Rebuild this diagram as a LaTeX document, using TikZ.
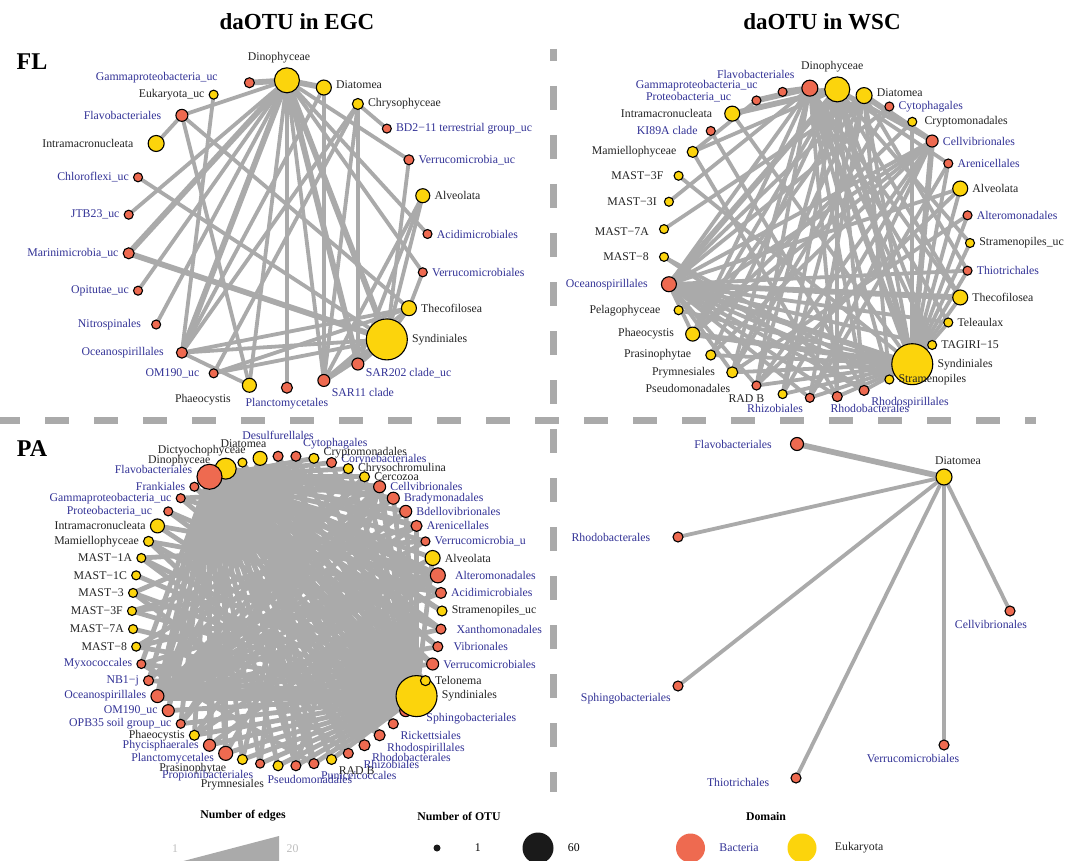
\documentclass[tikz,border=0pt]{standalone}
\usepackage{fontspec}
\setmainfont{Liberation Serif}
\usepackage{xcolor}
\usepackage{tikz}
\usetikzlibrary{positioning,backgrounds}
\definecolor{bacred}{RGB}{238,106,80}
\definecolor{eukgold}{RGB}{252,212,12}
\definecolor{labblue}{RGB}{50,50,150}
\definecolor{labdark}{RGB}{35,35,35}
\definecolor{linkgray}{RGB}{170,170,170}
\definecolor{keygray}{RGB}{190,190,190}
\definecolor{otublack}{RGB}{26,26,26}

\begin{document}
\begin{tikzpicture}[
    x=1pt, y=-1pt,
    font=\fontsize{11.8}{13}\selectfont,
    label distance=3pt,
    every label/.style={inner sep=1pt},
    otu/.style={circle, draw=black, line width=1.1pt, inner sep=0pt, minimum size=#1},
    bac/.style={otu=#1, fill=bacred},
    euk/.style={otu=#1, fill=eukgold},
    bl/.style={text=labblue},
    el/.style={text=labdark},
    link/.style={draw=linkgray, line width=3.8pt},
    thicklink/.style={link, line width=5.8pt},
    heavylink/.style={link, line width=10pt},
    palink/.style={link, line width=4.8pt},
    divider/.style={draw=linkgray, line width=7pt, dash pattern=on 24pt off 25pt},
    paneltitle/.style={font=\fontsize{23}{26}\selectfont\bfseries},
    panellabel/.style={font=\fontsize{24}{28}\selectfont\bfseries},
    keytitle/.style={font=\fontsize{11.8}{13}\selectfont\bfseries},
    keytext/.style={inner sep=1pt}
]
\useasboundingbox (0,0) rectangle (1068,861);

% titles
\node[paneltitle] (egc) at (297,22) {daOTU in EGC};
\node[paneltitle] (wsc) at (822,22) {daOTU in WSC};
\node[panellabel] (fl) at (32,62) {FL};
\node[panellabel] (pa) at (32,449) {PA};

% dividers
\draw[divider] (-4,420) -- (1036,420);
\draw[divider, dash phase=12pt] (553,49) -- (553,792);

% FL / EGC
\begin{scope}[shift={(277.5,234)}]
\node[bac=9pt, label={[bl]right:Acidimicrobiales}] (fl-aci) at (0:150 and 154) {};
\node[euk=14pt, label={[el]right:Alveolata}] (fl-alv) at (-14.4:150 and 154) {};
\node[bac=10pt, label={[bl]right:Verrucomicrobia\_uc}] (fl-ver) at (-28.8:150 and 154) {};
\node[bac=9pt, label={[bl]right:BD2−11 terrestrial group\_uc}] (fl-bd2) at (-43.2:150 and 154) {};
\node[euk=11pt, label={[el]right:Chrysophyceae}] (fl-chr) at (-57.6:150 and 154) {};
\node[euk=15pt, label={[el,yshift=3pt]right:Diatomea}] (fl-dia) at (-72:150 and 154) {};
\node[euk=25pt, label={[el,xshift=-8pt]above:Dinophyceae}] (fl-din) at (-86.4:150 and 154) {};
\node[bac=10pt, label={[bl,xshift=-22pt,yshift=5pt]left:Gammaproteobacteria\_uc}] (fl-gam) at (-100.8:150 and 154) {};
\node[euk=9pt, label={[el]left:Eukaryota\_uc}] (fl-euk) at (-115.2:150 and 154) {};
\node[bac=12pt, label={[bl,xshift=-10pt]left:Flavobacteriales}] (fl-fla) at (-129.6:150 and 154) {};
\node[euk=16pt, label={[el,xshift=-10pt]left:Intramacronucleata}] (fl-int) at (-144:150 and 154) {};
\node[bac=9pt, label={[bl]left:Chloroflexi\_uc}] (fl-chl) at (-158.4:150 and 154) {};
\node[bac=9pt, label={[bl]left:JTB23\_uc}] (fl-jtb) at (-172.8:150 and 154) {};
\node[bac=11pt, label={[bl]left:Marinimicrobia\_uc}] (fl-mar) at (172.8:150 and 154) {};
\node[bac=9pt, label={[bl]left:Opitutae\_uc}] (fl-opi) at (158.4:150 and 154) {};
\node[bac=9pt, label={[bl,xshift=-6pt]left:Nitrospinales}] (fl-nit) at (144:150 and 154) {};
\node[bac=11pt, label={[bl,xshift=-8pt]left:Oceanospirillales}] (fl-oce) at (129.6:150 and 154) {};
\node[bac=9pt, label={[bl,xshift=-5pt]left:OM190\_uc}] (fl-om1) at (115.2:150 and 154) {};
\node[euk=14pt, label={[el,xshift=-10pt]below left:Phaeocystis}] (fl-pha) at (100.8:150 and 154) {};
\node[bac=11pt, label={[bl]below:Planctomycetales}] (fl-pla) at (86.4:150 and 154) {};
\node[bac=12pt, label={[bl]below right:SAR11 clade}] (fl-s11) at (72:150 and 154) {};
\node[bac=12pt, label={[bl,yshift=4pt]below right:SAR202 clade\_uc}] (fl-s20) at (57.6:150 and 154) {};
\node[euk=41pt, label={[el]right:Syndiniales}] (fl-syn) at (43.2:150 and 154) {};
\node[euk=15pt, label={[el]right:Thecofilosea}] (fl-the) at (28.8:150 and 154) {};
\node[bac=9pt, label={[bl]right:Verrucomicrobiales}] (fl-vcb) at (14.4:150 and 154) {};
\end{scope}

% FL / WSC
\begin{scope}[shift={(816.7,243)}]
\node[euk=9pt, label={[el]right:Stramenopiles\_uc}] (ws-stu) at (0:153.3 and 155) {};
\node[bac=9pt, label={[bl]right:Alteromonadales}] (ws-alt) at (-10.29:153.3 and 155) {};
\node[euk=15pt, label={[el]right:Alveolata}] (ws-alv) at (-20.57:153.3 and 155) {};
\node[bac=9pt, label={[bl]right:Arenicellales}] (ws-are) at (-30.86:153.3 and 155) {};
\node[bac=12pt, label={[bl]right:Cellvibrionales}] (ws-cel) at (-41.14:153.3 and 155) {};
\node[euk=9pt, label={[el,xshift=3pt]right:Cryptomonadales}] (ws-cry) at (-51.43:153.3 and 155) {};
\node[bac=9pt, label={[bl]right:Cytophagales}] (ws-cyt) at (-61.71:153.3 and 155) {};
\node[euk=16pt, label={[el,yshift=3pt]right:Diatomea}] (ws-dia) at (-72:153.3 and 155) {};
\node[euk=25pt, label={[el,xshift=-5pt]above:Dinophyceae}] (ws-din) at (-82.29:153.3 and 155) {};
\node[bac=16pt, label={[bl,xshift=-6pt]above left:Flavobacteriales}] (ws-fla) at (-92.57:153.3 and 155) {};
\node[bac=9pt, label={[bl,xshift=-18pt,yshift=-6pt]above left:Gammaproteobacteria\_uc}] (ws-gam) at (-102.86:153.3 and 155) {};
\node[bac=9pt, label={[bl,xshift=-16pt,yshift=3pt]left:Proteobacteria\_uc}] (ws-pro) at (-113.14:153.3 and 155) {};
\node[euk=15pt, label={[el,xshift=-8pt]left:Intramacronucleata}] (ws-int) at (-123.43:153.3 and 155) {};
\node[bac=9pt, label={[bl,xshift=-4pt]left:KI89A clade}] (ws-ki8) at (-133.71:153.3 and 155) {};
\node[euk=11pt, label={[el,xshift=-6pt]left:Mamiellophyceae}] (ws-mam) at (-144:153.3 and 155) {};
\node[euk=9pt, label={[el,xshift=-6pt]left:MAST−3F}] (ws-m3f) at (-154.29:153.3 and 155) {};
\node[euk=9pt, label={[el,xshift=-3pt]left:MAST−3I}] (ws-m3i) at (-164.57:153.3 and 155) {};
\node[euk=9pt, label={[el,xshift=-6pt,yshift=-3pt]left:MAST−7A}] (ws-m7a) at (-174.86:153.3 and 155) {};
\node[euk=9pt, label={[el,xshift=-6pt]left:MAST−8}] (ws-m8) at (174.86:153.3 and 155) {};
\node[bac=15pt, label={[bl,xshift=-9pt]left:Oceanospirillales}] (ws-oce) at (164.57:153.3 and 155) {};
\node[euk=9pt, label={[el,xshift=-9pt]left:Pelagophyceae}] (ws-pel) at (154.29:153.3 and 155) {};
\node[euk=14pt, label={[el,xshift=-7pt]left:Phaeocystis}] (ws-pha) at (144:153.3 and 155) {};
\node[euk=10pt, label={[el,xshift=-10pt]left:Prasinophytae}] (ws-pra) at (133.71:153.3 and 155) {};
\node[euk=11pt, label={[el,xshift=-7pt]left:Prymnesiales}] (ws-pry) at (123.43:153.3 and 155) {};
\node[bac=9pt, label={[el,xshift=-17pt,yshift=-3pt]left:Pseudomonadales}] (ws-pse) at (113.14:153.3 and 155) {};
\node[euk=9pt, label={[el,xshift=-9pt,yshift=-5pt]left:RAD B}] (ws-rad) at (102.86:153.3 and 155) {};
\node[bac=9pt, label={[bl]below left:Rhizobiales}] (ws-rhi) at (92.57:153.3 and 155) {};
\node[bac=10pt, label={[bl,xshift=-14pt]below right:Rhodobacterales}] (ws-rhb) at (82.29:153.3 and 155) {};
\node[bac=10pt, label={[bl]below right:Rhodospirillales}] (ws-rhs) at (72:153.3 and 155) {};
\node[euk=41pt, label={[el]right:Syndiniales}] (ws-syn) at (51.43:153.3 and 155) {};
\node[euk=9pt, label={[el]right:Stramenopiles}] (ws-str) at (61.71:153.3 and 155) {};
\node[euk=9pt, label={[el]right:TAGIRI−15}] (ws-tag) at (41.14:153.3 and 155) {};
\node[euk=9pt, label={[el]right:Teleaulax}] (ws-tel) at (30.86:153.3 and 155) {};
\node[euk=15pt, label={[el]right:Thecofilosea}] (ws-the) at (20.57:153.3 and 155) {};
\node[bac=9pt, label={[bl]right:Thiotrichales}] (ws-thi) at (10.29:153.3 and 155) {};
\end{scope}

% PA / EGC
\begin{scope}[shift={(287,611)}]
\node[euk=14pt, label={[el,xshift=15pt,yshift=2pt]above left:Diatomea}] (pa-dia) at (260:155) {};
\node[euk=9pt, label={[el,xshift=10pt]above left:Dictyochophyceae}] (pa-dic) at (253.3:155) {};
\node[euk=21pt, label={[el,yshift=8pt]left:Dinophyceae}] (pa-din) at (246.7:155) {};
\node[bac=25pt, label={[bl,yshift=7pt]left:Flavobacteriales}] (pa-fla) at (240:155) {};
\node[bac=9pt, label={[bl]left:Frankiales}] (pa-fra) at (233.3:155) {};
\node[bac=9pt, label={[bl]left:Gammaproteobacteria\_uc}] (pa-gam) at (226.7:155) {};
\node[bac=9pt, label={[bl,xshift=-7pt]left:Proteobacteria\_uc}] (pa-prb) at (220:155) {};
\node[euk=14pt, label={[el]left:Intramacronucleata}] (pa-int) at (213.3:155) {};
\node[euk=10pt, label={[el]left:Mamiellophyceae}] (pa-mam) at (206.7:155) {};
\node[euk=9pt, label={[el]left:MAST−1A}] (pa-m1a) at (200:155) {};
\node[euk=9pt, label={[el]left:MAST−1C}] (pa-m1c) at (193.3:155) {};
\node[euk=9pt, label={[el]left:MAST−3}] (pa-m3) at (186.7:155) {};
\node[euk=9pt, label={[el]left:MAST−3F}] (pa-m3f) at (180:155) {};
\node[euk=9pt, label={[el]left:MAST−7A}] (pa-m7a) at (173.3:155) {};
\node[euk=9pt, label={[el]left:MAST−8}] (pa-m8) at (166.7:155) {};
\node[bac=9pt, label={[bl]left:Myxococcales}] (pa-myx) at (160:155) {};
\node[bac=10pt, label={[bl]left:NB1−j}] (pa-nb1) at (153.3:155) {};
\node[bac=13pt, label={[bl]left:Oceanospirillales}] (pa-oce) at (146.7:155) {};
\node[bac=12pt, label={[bl]left:OM190\_uc}] (pa-om1) at (140:155) {};
\node[bac=9pt, label={[bl]left:OPB35 soil group\_uc}] (pa-opb) at (133.3:155) {};
\node[euk=10pt, label={[el]left:Phaeocystis}] (pa-pha) at (126.7:155) {};
\node[bac=12pt, label={[bl]left:Phycisphaerales}] (pa-phy) at (120:155) {};
\node[bac=14pt, label={[bl,yshift=-5pt]left:Planctomycetales}] (pa-pla) at (113.3:155) {};
\node[euk=10pt, label={[el,xshift=-9pt,yshift=3pt]below left:Prasinophytae}] (pa-pra) at (106.7:155) {};
\node[bac=9pt, label={[bl]below left:Propionibacteriales}] (pa-ppb) at (100:155) {};
\node[euk=10pt, label={[el,xshift=-7pt,yshift=-6pt]below left:Prymnesiales}] (pa-pry) at (93.3:155) {};
\node[bac=10pt, label={[bl,xshift=14pt]below:Pseudomonadales}] (pa-pse) at (86.7:155) {};
\node[bac=10pt, label={[bl]below right:Puniceicoccales}] (pa-pun) at (80:155) {};
\node[euk=10pt, label={[el]below right:RAD B}] (pa-rad) at (73.3:155) {};
\node[bac=10pt, label={[bl,xshift=8pt]below right:Rhizobiales}] (pa-rhi) at (66.7:155) {};
\node[bac=11pt, label={[bl]below right:Rhodobacterales}] (pa-rhb) at (60:155) {};
\node[bac=11pt, label={[bl]below right:Rhodospirillales}] (pa-rhs) at (53.3:155) {};
\node[bac=10pt, label={[bl]below right:Rickettsiales}] (pa-ric) at (46.7:155) {};
\node[bac=12pt, label={[bl,xshift=10pt,yshift=-8pt]right:Sphingobacteriales}] (pa-sph) at (40:155) {};
\node[euk=41pt, label={[el]right:Syndiniales}] (pa-syn) at (33.3:155) {};
\node[euk=10pt, label={[el]right:Telonema}] (pa-tel) at (26.7:155) {};
\node[bac=12pt, label={[bl]right:Verrucomicrobiales}] (pa-vcb) at (20:155) {};
\node[bac=10pt, label={[bl,xshift=6pt]right:Vibrionales}] (pa-vib) at (13.3:155) {};
\node[bac=10pt, label={[bl,xshift=6pt]right:Xanthomonadales}] (pa-xan) at (6.7:155) {};
\node[euk=10pt, label={[el]right:Stramenopiles\_uc}] (pa-stu) at (0:155) {};
\node[bac=11pt, label={[bl]right:Acidimicrobiales}] (pa-aci) at (-6.7:155) {};
\node[bac=15pt, label={[bl,xshift=5pt]right:Alteromonadales}] (pa-alt) at (-13.3:155) {};
\node[euk=15pt, label={[el]right:Alveolata}] (pa-alv) at (-20:155) {};
\node[bac=9pt, label={[bl]right:Verrucomicrobia\_u}] (pa-veu) at (-26.7:155) {};
\node[bac=11pt, label={[bl]right:Arenicellales}] (pa-are) at (-33.3:155) {};
\node[bac=12pt, label={[bl]right:Bdellovibrionales}] (pa-bde) at (-40:155) {};
\node[bac=12pt, label={[bl]right:Bradymonadales}] (pa-bra) at (-46.7:155) {};
\node[bac=12pt, label={[bl]right:Cellvibrionales}] (pa-cel) at (-53.3:155) {};
\node[euk=10pt, label={[el]right:Cercozoa}] (pa-cer) at (-60:155) {};
\node[euk=10pt, label={[el]right:Chrysochromulina}] (pa-chy) at (-66.7:155) {};
\node[bac=10pt, label={[bl,yshift=3pt]right:Corynebacteriales}] (pa-cor) at (-73.3:155) {};
\node[euk=10pt, label={[el,yshift=6pt]right:Cryptomonadales}] (pa-cry) at (-80:155) {};
\node[bac=10pt, label={[bl]above right:Cytophagales}] (pa-cyt) at (-86.7:155) {};
\node[bac=10pt, label={[bl,yshift=7pt]above:Desulfurellales}] (pa-des) at (-93.3:155) {};
\end{scope}

% PA / WSC
\node[bac=13pt, label={[bl,xshift=-14pt]left:Flavobacteriales}] (pw-fla) at (797,444) {};
\node[euk=16pt, label={[el,xshift=14pt]above:Diatomea}] (pw-dia) at (944,477) {};
\node[bac=10pt, label={[bl,xshift=-18pt]left:Rhodobacterales}] (pw-rhb) at (678,537) {};
\node[bac=10pt, label={[bl,xshift=-19pt]below:Cellvibrionales}] (pw-cel) at (1010,611) {};
\node[bac=10pt, label={[bl]below left:Sphingobacteriales}] (pw-sph) at (678,686) {};
\node[bac=10pt, label={[bl,xshift=-31pt]below:Verrucomicrobiales}] (pw-ver) at (944,745) {};
\node[bac=10pt, label={[bl,xshift=-17pt,yshift=-4pt]left:Thiotrichales}] (pw-thi) at (796,778) {};

% legend
\node[keytitle] (key-edges) at (243,816) {Number of edges};
\node[keytitle] (key-otu) at (459,816) {Number of OTU};
\node[keytitle] (key-dom) at (766,816) {Domain};
\fill[linkgray] (183.5,861) -- (279,836) -- (279,861) -- cycle;
\node[keytext, text=keygray] (key-w1) at (175,849) {1};
\node[keytext, text=keygray] (key-w20) at (292.5,849) {20};
\node[circle, fill=otublack, inner sep=0pt, minimum size=7pt] (key-one) at (437,848) {};
\node[keytext, right=33pt of key-one] (key-one-t) {1};
\node[circle, fill=otublack, inner sep=0pt, minimum size=31pt] (key-sixty) at (538,848) {};
\node[keytext, right=13pt of key-sixty] (key-sixty-t) {60};
\node[circle, fill=bacred, inner sep=0pt, minimum size=29pt] (key-bac) at (690.5,848) {};
\node[keytext, text=labblue, right=13pt of key-bac] (key-bac-t) {Bacteria};
\node[circle, fill=eukgold, inner sep=0pt, minimum size=29pt] (key-euk) at (802,848) {};
\node[keytext, text=labdark, right=17pt of key-euk] (key-euk-t) {Eukaryota};

\begin{scope}[on background layer]
\fill[white] (0,0) rectangle (1068,861);
% FL / EGC links
\foreach \na/\nb in {din/jtb, din/opi, din/nit, din/fla, din/ver, din/aci, din/vcb, din/pla,
    din/s11, din/pha, fla/int, fla/the, fla/pha, chl/syn, chr/bd2, chr/s20, chr/s11, chr/oce,
    chr/om1, dia/s11, dia/oce, euk/oce, oce/the, oce/syn, oce/pha, om1/the, om1/syn, s11/alv,
    s20/alv, syn/alv, syn/the, ver/syn, vcb/the, s11/the}
  \draw[link] (fl-\na.center) -- (fl-\nb.center);
\foreach \na/\nb in {din/gam, din/dia, din/mar, din/syn, din/s20, mar/syn, din/oce, s11/syn, s20/syn}
  \draw[thicklink] (fl-\na.center) -- (fl-\nb.center);
% FL / WSC links
\foreach \na/\nb in {gam/din, fla/rhs, fla/str, fla/pse, fla/pry, fla/rhb, fla/tel, fla/the,
    fla/oce, fla/m3i, fla/pha, fla/tag, din/the, din/tag, din/rhb, din/rhs, din/pse, din/pha,
    din/pra, din/mam, din/rad, din/cel, din/are, dia/syn, dia/rhi, dia/pry, dia/pha, dia/str,
    dia/rad, dia/oce, dia/thi, dia/m7a, cel/oce, cel/pse, cel/pha, cel/pra, cel/rad, cel/pel,
    cel/rhi, oce/str, oce/tel, oce/tag, oce/rhb, oce/rhs, oce/rhi, oce/pse, oce/pha, oce/pry,
    oce/thi, oce/alv, oce/cyt, m3f/syn, mam/rhb, m8/rhs, ki8/rhs, m8/str, mam/pro, int/syn,
    syn/the, syn/alv, syn/are, syn/tel, syn/thi, syn/stu, syn/cry, syn/alt, syn/pry, syn/pse,
    syn/rad, syn/rhi, syn/rhb, syn/rhs, syn/pra, syn/pel, alv/pse, are/rhi, alt/pry, stu/din,
    cry/pha, cyt/pry}
  \draw[link] (ws-\na.center) -- (ws-\nb.center);
\foreach \na/\nb in {int/din, pro/fla, gam/fla, dia/cel, cel/syn, oce/syn, din/syn, fla/syn,
    din/oce, oce/the, pha/syn}
  \draw[thicklink] (ws-\na.center) -- (ws-\nb.center);
% PA / EGC links
\foreach \na/\nb in {syn/des, syn/cyt, syn/cry, syn/cor, syn/chy, syn/cer, syn/bra, syn/bde,
    syn/are, syn/dia, syn/dic, syn/fra, syn/gam, syn/prb, syn/int, syn/mam, syn/m1a, syn/m1c,
    syn/m3, syn/m3f, syn/m7a, syn/m8, syn/myx, syn/nb1, syn/om1, syn/opb, syn/pha, syn/phy,
    syn/pla, syn/pra, syn/ppb, syn/pry, syn/pse, syn/pun, syn/rad, syn/alv,
    fla/bra, fla/bde, fla/are, fla/veu, fla/alv, fla/aci, fla/stu, fla/xan, fla/vib, fla/vcb,
    fla/tel, fla/sph, fla/ric, fla/rhs, fla/rhb, fla/rhi, fla/rad, fla/pun, fla/pse, fla/pry,
    fla/ppb, fla/pra, fla/pla, fla/phy, fla/pha, fla/opb, fla/om1, fla/nb1, fla/myx, fla/cor,
    fla/cry, fla/cer, fla/chy,
    din/aci, din/stu, din/xan, din/vib, din/vcb, din/sph, din/ric, din/rhs, din/rhb, din/rhi,
    din/pun, din/pse, din/oce, din/om1, din/pla, din/phy, din/cel, din/bra, din/are,
    oce/alv, oce/cel, oce/bra, oce/bde, oce/aci, oce/xan, oce/vib, oce/vcb, oce/tel, oce/are,
    oce/veu, oce/cer, oce/cyt, oce/dia,
    alt/myx, alt/m8, alt/m3f, alt/pha, alt/phy, alt/int, alt/gam,
    cel/pha, cel/pla, cel/opb, cel/m3, cel/gam, cel/pse,
    dia/rhb, dia/pun, dic/rhi, des/pse, cyt/ppb, cry/pra, chy/opb, cer/nb1, bra/m8, are/m3f,
    veu/m1a, aci/mam, xan/prb, vcb/fra, rhs/m1a, rhb/mam, rhi/m3, pun/myx}
  \draw[palink] (pa-\na.center) -- (pa-\nb.center);
\foreach \na/\nb in {din/syn, fla/alt, fla/cel, din/alt, oce/alt, fla/oce, cel/syn}
  \draw[thicklink] (pa-\na.center) -- (pa-\nb.center);
\foreach \na/\nb in {oce/syn, fla/syn}
  \draw[heavylink] (pa-\na.center) -- (pa-\nb.center);
% PA / WSC links
\foreach \nb in {rhb, sph, thi, ver, cel}
  \draw[link] (pw-dia.center) -- (pw-\nb.center);
\draw[thicklink] (pw-dia.center) -- (pw-fla.center);
\end{scope}
\end{tikzpicture}
\end{document}
